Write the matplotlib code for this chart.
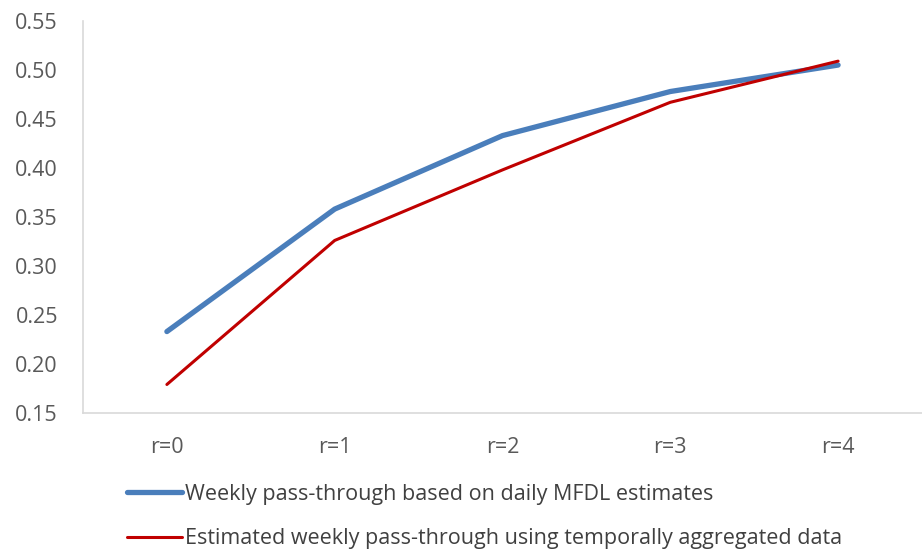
import numpy as np
import matplotlib.pyplot as plt

lags = ["r=0", "r=1", "r=2", "r=3", "r=4"]
weekly_mfdl = [0.233, 0.358, 0.433, 0.478, 0.505]
weekly_aggregated = [0.179, 0.326, 0.398, 0.467, 0.509]

plt.rcParams['font.family'] = ['Open Sans', 'DejaVu Sans']

fig = plt.figure(figsize=(9.22, 5.52), dpi=100)
ax = fig.add_axes([0.090, 0.252, 0.910, 0.710])

x = np.arange(len(lags))
ax.plot(x, weekly_mfdl, color="#4A7EBB", lw=3.8, solid_capstyle="round",
        label="Weekly pass-through based on daily MFDL estimates")
ax.plot(x, weekly_aggregated, color="#C00000", lw=2.2, solid_capstyle="round",
        label="Estimated weekly pass-through using temporally aggregated data")

ax.set_xlim(-0.5, len(lags) - 0.5)
ax.set_ylim(0.15, 0.55)
ax.set_yticks(np.arange(0.15, 0.5501, 0.05))
ax.set_yticklabels([f"{v:.2f}" for v in np.arange(0.15, 0.5501, 0.05)])
ax.set_xticks(x)
ax.set_xticklabels(lags)
ax.tick_params(length=0, labelsize=15.5, labelcolor="#595959")
ax.tick_params(axis="y", pad=18)
ax.tick_params(axis="x", pad=17)

for side in ("top", "right"):
    ax.spines[side].set_visible(False)
for side in ("left", "bottom"):
    ax.spines[side].set_color("#D9D9D9")
    ax.spines[side].set_linewidth(1.2)

fig.legend(loc="upper left", bbox_to_anchor=(0.138, 0.124), frameon=False,
           fontsize=15.5, labelcolor="#404040", handlelength=2.55,
           handletextpad=0.12, labelspacing=1.1, borderaxespad=0, borderpad=0)

fig.savefig("out.png", dpi=100)
